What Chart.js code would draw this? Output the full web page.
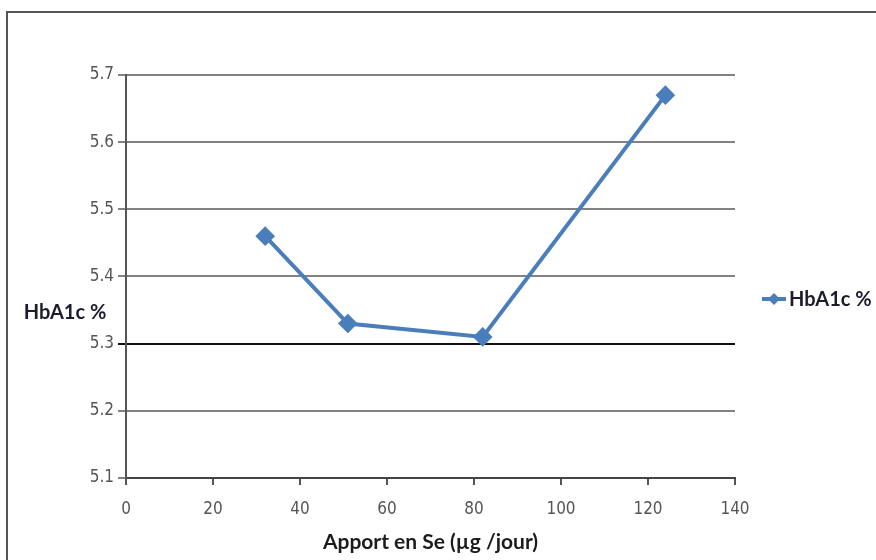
<!DOCTYPE html>
<html>
<head>
<meta charset="utf-8">
<script src="https://cdn.jsdelivr.net/npm/chart.js@4/dist/chart.umd.min.js"></script>
<style>
  html, body { margin: 0; padding: 0; background: #fff; }
  #wrap { width: 876px; height: 560px; position: relative; }
</style>
</head>
<body>
<div id="wrap"><canvas id="c" width="876" height="560"></canvas></div>
<script>
// Selenium intake (µg/day) and mean HbA1c (%)
const seIntake = [32, 51, 82, 124];
const hba1c = [5.46, 5.33, 5.31, 5.67];
const seriesName = 'HbA1c %';
const xTitle = 'Apport en Se (µg /jour)';
const yTitle = 'HbA1c %';

const blue = '#4A7EBB';
const tickFont = { family: "'DejaVu Sans Condensed', 'Liberation Sans Narrow', 'Liberation Sans', sans-serif", size: 17 };
const titleFamily = "Lato, 'Open Sans', 'Liberation Sans', sans-serif";
const titleFont = "bold 20px " + titleFamily;

// Frame, horizontal y title and right-hand legend
const decor = {
  id: 'decor',
  afterDraw(chart) {
    const ctx = chart.ctx;
    ctx.save();
    // outer frame (top and left edges)
    ctx.strokeStyle = '#555';
    ctx.lineWidth = 2;
    ctx.beginPath();
    ctx.moveTo(7, 560);
    ctx.lineTo(7, 12);
    ctx.lineTo(876, 12);
    ctx.stroke();

    // y axis title, horizontal
    ctx.font = titleFont;
    ctx.fillStyle = '#1c1c30';
    ctx.textAlign = 'center';
    ctx.textBaseline = 'middle';
    ctx.fillText(yTitle, 65, 313);

    // legend entry
    const ly = 299;
    ctx.strokeStyle = blue;
    ctx.lineWidth = 4;
    ctx.beginPath();
    ctx.moveTo(762, ly);
    ctx.lineTo(786, ly);
    ctx.stroke();
    ctx.fillStyle = blue;
    ctx.beginPath();
    ctx.moveTo(774, ly - 6);
    ctx.lineTo(780, ly);
    ctx.lineTo(774, ly + 6);
    ctx.lineTo(768, ly);
    ctx.closePath();
    ctx.fill();
    ctx.fillStyle = '#1c1c30';
    ctx.textAlign = 'left';
    ctx.fillText(seriesName, 789, ly + 1);
    ctx.restore();
  }
};

new Chart(document.getElementById('c'), {
  type: 'scatter',
  data: {
    datasets: [{
      label: seriesName,
      data: seIntake.map((x, i) => ({ x: x, y: hba1c[i] })),
      showLine: true,
      borderColor: blue,
      backgroundColor: blue,
      borderWidth: 4,
      pointStyle: 'rectRot',
      pointRadius: 7,
      pointHoverRadius: 7,
      tension: 0
    }]
  },
  options: {
    responsive: false,
    animation: false,
    events: [],
    layout: { padding: { left: 70, right: 141, top: 75, bottom: 0 } },
    plugins: { legend: { display: false }, tooltip: { enabled: false } },
    scales: {
      x: {
        type: 'linear',
        min: 0, max: 140,
        ticks: { stepSize: 20, color: '#555', font: tickFont, padding: 14 },
        grid: { drawOnChartArea: false, drawTicks: true, tickLength: 7, color: '#555', lineWidth: 2 },
        border: { color: '#444', width: 2 },
        title: {
          display: true, text: xTitle, color: '#1c1c1c',
          font: { family: titleFamily, size: 21, weight: 'bold' },
          padding: { top: 0, bottom: 5 }
        },
        afterFit(scale) { scale.height = 82; }
      },
      y: {
        min: 5.1, max: 5.7,
        ticks: { stepSize: 0.1, color: '#555', font: tickFont, padding: 4,
          callback: v => v.toFixed(1) },
        grid: {
          tickLength: 8,
          lineWidth: 2,
          color: c => (c.tick && Math.abs(c.tick.value - 5.3) < 1e-6) ? '#111' : '#828282'
        },
        border: { color: '#555', width: 2 },
        afterFit(scale) { scale.width = 56; }
      }
    }
  },
  plugins: [decor]
});
</script>
</body>
</html>
